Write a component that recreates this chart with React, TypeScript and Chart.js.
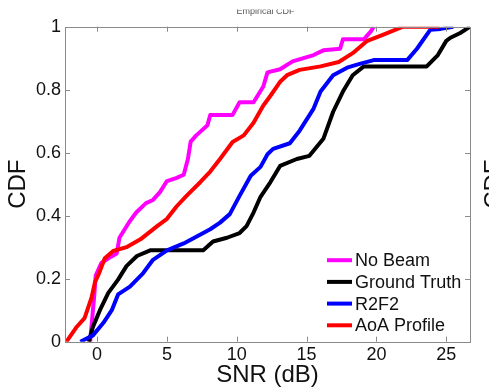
import React, { useEffect, useRef } from "react";
import { Chart, registerables } from "chart.js";

Chart.register(...registerables);

// ---- Data ----
const noBeamX = [-0.5, -0.4, -0.2, -0.1, 0.3, 1.0, 1.4, 1.6, 2.3, 2.8, 3.5, 4.0, 4.5, 5.0, 5.7, 6.2, 6.5, 6.7, 7.1, 7.9, 8.1, 9.7, 10.2, 11.2, 11.9, 12.2, 13.1, 14.0, 15.5, 16.2, 17.4, 17.6, 19.1, 19.6, 19.8];
const noBeamY = [0, 0.05, 0.15, 0.21, 0.25, 0.27, 0.28, 0.33, 0.38, 0.41, 0.44, 0.45, 0.475, 0.51, 0.52, 0.53, 0.58, 0.635, 0.655, 0.687, 0.72, 0.72, 0.76, 0.76, 0.81, 0.855, 0.865, 0.89, 0.91, 0.925, 0.93, 0.96, 0.96, 0.985, 1.0];

const groundTruthX = [-0.6, -0.3, 0.2, 0.8, 1.5, 2.1, 2.85, 3.8, 7.6, 8.3, 9.3, 10.2, 10.7, 11.2, 11.7, 12.4, 13.1, 14.3, 15.2, 16.2, 16.9, 17.6, 18.3, 19.1, 23.6, 24.4, 25.0, 25.3, 26.0, 26.7];
const groundTruthY = [0, 0.047, 0.1, 0.155, 0.197, 0.24, 0.272, 0.29, 0.29, 0.318, 0.33, 0.345, 0.367, 0.41, 0.46, 0.506, 0.558, 0.58, 0.59, 0.644, 0.73, 0.794, 0.846, 0.874, 0.874, 0.91, 0.955, 0.965, 0.98, 1.0];

const r2f2X = [-1.2, -0.3, 0.45, 1.05, 1.5, 2.35, 3.3, 4.0, 5.0, 6.2, 7.4, 8.1, 8.8, 9.5, 10.2, 11.0, 11.7, 12.2, 12.6, 13.8, 14.5, 15.5, 16.0, 16.9, 17.9, 18.8, 19.8, 22.2, 22.9, 23.85, 24.6, 25.5];
const r2f2Y = [0, 0.02, 0.06, 0.1, 0.15, 0.175, 0.218, 0.26, 0.29, 0.312, 0.34, 0.357, 0.378, 0.405, 0.463, 0.527, 0.555, 0.595, 0.612, 0.63, 0.67, 0.74, 0.794, 0.846, 0.87, 0.882, 0.894, 0.894, 0.93, 0.99, 0.993, 1.0];

const aoaX = [-2.2, -1.5, -0.9, -0.4, -0.15, 0.1, 0.55, 1.15, 2.1, 3.1, 4.3, 5.0, 5.7, 6.4, 7.4, 8.1, 8.8, 9.7, 10.5, 11.2, 11.9, 12.4, 13.1, 13.6, 14.5, 16.0, 17.3, 18.3, 19.3, 20.5, 21.9, 24.5];
const aoaY = [0, 0.045, 0.075, 0.14, 0.19, 0.213, 0.265, 0.288, 0.3, 0.325, 0.367, 0.39, 0.43, 0.463, 0.507, 0.54, 0.58, 0.634, 0.655, 0.695, 0.75, 0.78, 0.825, 0.846, 0.863, 0.874, 0.888, 0.916, 0.954, 0.975, 1.0, 1.0];

const seriesNames = ["No Beam", "Ground Truth", "R2F2", "AoA Profile"];
const seriesColors = ["#ff00ff", "#000000", "#0000ff", "#ff0000"];
const xTickValues = [0, 5, 10, 15, 20, 25];
const yTickValues = [0, 0.2, 0.4, 0.6, 0.8, 1];
const xLabel = "SNR (dB)";
const yLabel = "CDF";
const titleText = "Empirical CDF";

const FONT = "'Liberation Sans', Arial, Helvetica, sans-serif";

function pts(xs: number[], ys: number[]) {
  return xs.map((x, i) => ({ x, y: ys[i] }));
}

const decorPlugin = {
  id: "decor",
  beforeDraw(chart: any) {
    const ctx = chart.ctx;
    ctx.save();
    ctx.fillStyle = "#ffffff";
    ctx.fillRect(0, 0, chart.width, chart.height);
    ctx.restore();
  },
  afterDraw(chart: any) {
    const ctx = chart.ctx;
    const a = chart.chartArea;
    const xs = chart.scales.x;
    const ys = chart.scales.y;
    ctx.save();
    // frame
    ctx.strokeStyle = "#8a8a8a";
    ctx.lineWidth = 1;
    ctx.strokeRect(Math.round(a.left) + 0.5, Math.round(a.top) + 0.5, Math.round(a.right - a.left), Math.round(a.bottom - a.top));
    // inward ticks
    const tl = 5;
    ctx.beginPath();
    xTickValues.forEach((v) => {
      const px = Math.round(xs.getPixelForValue(v)) + 0.5;
      ctx.moveTo(px, a.bottom);
      ctx.lineTo(px, a.bottom - tl);
      ctx.moveTo(px, a.top);
      ctx.lineTo(px, a.top + tl);
    });
    yTickValues.forEach((v) => {
      const py = Math.round(ys.getPixelForValue(v)) + 0.5;
      ctx.moveTo(a.left, py);
      ctx.lineTo(a.left + tl, py);
      ctx.moveTo(a.right, py);
      ctx.lineTo(a.right - tl, py);
    });
    ctx.stroke();

    // legend
    const lx0 = a.right - 143;
    const lx1 = a.right - 118;
    const rowY0 = a.top + 233.5;
    const rowH = 21.7;
    ctx.font = `18px ${FONT}`;
    ctx.textBaseline = "middle";
    ctx.textAlign = "left";
    seriesNames.forEach((name, i) => {
      const y = rowY0 + i * rowH;
      ctx.strokeStyle = seriesColors[i];
      ctx.lineWidth = 4;
      ctx.beginPath();
      ctx.moveTo(lx0, y);
      ctx.lineTo(lx1, y);
      ctx.stroke();
      ctx.fillStyle = "#111111";
      ctx.fillText(name, lx1 + 3, y + 1);
    });

    // clipped title at top
    ctx.save();
    ctx.beginPath();
    ctx.rect(0, 9.5, chart.width, 20);
    ctx.clip();
    ctx.font = `9px ${FONT}`;
    ctx.fillStyle = "#555555";
    ctx.textAlign = "center";
    ctx.textBaseline = "alphabetic";
    ctx.fillText(titleText, (a.left + a.right) / 2 - 2, 13.5);
    ctx.restore();

    // partial neighbouring axis label at right edge
    ctx.save();
    ctx.translate(484, (a.top + a.bottom) / 2);
    ctx.rotate(-Math.PI / 2);
    ctx.font = `24px ${FONT}`;
    ctx.fillStyle = "#111111";
    ctx.textAlign = "center";
    ctx.textBaseline = "top";
    ctx.fillText(yLabel, 0, -2);
    ctx.restore();

    ctx.restore();
  },
};

export default function App() {
  const ref = useRef<HTMLCanvasElement | null>(null);
  useEffect(() => {
    document.body.style.margin = "0";
    const canvas = ref.current;
    if (!canvas) return;
    const makeDs = (label: string, xs: number[], ys: number[], color: string, order: number) => ({
      label,
      data: pts(xs, ys),
      borderColor: color,
      backgroundColor: color,
      borderWidth: 4,
      pointRadius: 0,
      tension: 0,
      fill: false,
      order,
      borderJoinStyle: "round" as const,
      borderCapStyle: "butt" as const,
    });
    const chart = new Chart(canvas, {
      type: "line",
      data: {
        datasets: [
          makeDs(seriesNames[0], noBeamX, noBeamY, seriesColors[0], 3),
          makeDs(seriesNames[1], groundTruthX, groundTruthY, seriesColors[1], 2),
          makeDs(seriesNames[2], r2f2X, r2f2Y, seriesColors[2], 1),
          makeDs(seriesNames[3], aoaX, aoaY, seriesColors[3], 0),
        ],
      },
      options: {
        animation: false,
        responsive: false,
        maintainAspectRatio: false,
        layout: { padding: { left: 0, right: 19, top: 26.7, bottom: 0 } },
        plugins: {
          legend: { display: false },
          tooltip: { enabled: false },
          title: { display: false },
        },
        scales: {
          x: {
            type: "linear",
            min: -2.3,
            max: 26.7,
            grid: { display: false, drawTicks: false },
            border: { display: false },
            afterBuildTicks: (s: any) => {
              s.ticks = xTickValues.map((v) => ({ value: v }));
            },
            afterFit: (s: any) => {
              s.height = 45.3;
            },
            ticks: {
              autoSkip: false,
              maxRotation: 0,
              padding: 3,
              color: "#111111",
              font: { family: FONT, size: 18 },
              callback: (v: any) => String(v),
            },
            title: {
              display: true,
              text: xLabel,
              color: "#111111",
              font: { family: FONT, size: 24, lineHeight: 1 },
              padding: { top: 0, bottom: 0 },
            },
          },
          y: {
            type: "linear",
            min: 0,
            max: 1,
            grid: { display: false, drawTicks: false },
            border: { display: false },
            afterBuildTicks: (s: any) => {
              s.ticks = yTickValues.map((v) => ({ value: v }));
            },
            afterFit: (s: any) => {
              s.width = 65;
            },
            ticks: {
              autoSkip: false,
              padding: 4,
              color: "#111111",
              font: { family: FONT, size: 18 },
              callback: (v: any) => String(Math.round(v * 10) / 10),
            },
            title: {
              display: true,
              text: yLabel,
              color: "#111111",
              font: { family: FONT, size: 24, lineHeight: 1 },
              padding: { top: 6, bottom: 0 },
            },
          },
        },
      },
      plugins: [decorPlugin],
    });
    return () => chart.destroy();
  }, []);
  return (
    <div style={{ width: 489, height: 387 }}>
      <canvas ref={ref} width={489} height={387} style={{ display: "block", width: 489, height: 387 }} />
    </div>
  );
}
